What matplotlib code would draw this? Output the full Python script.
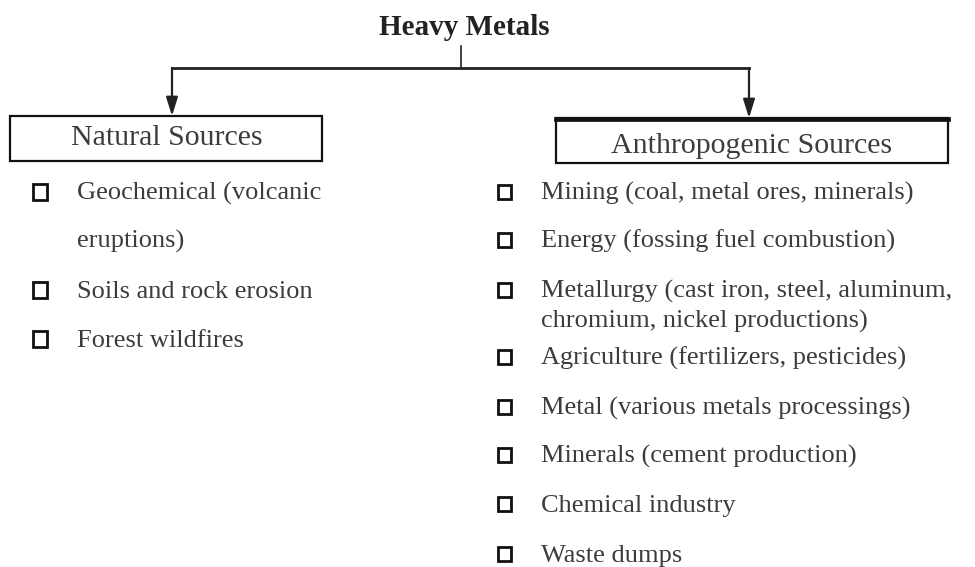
import matplotlib
matplotlib.use("Agg")
import matplotlib.pyplot as plt
from matplotlib.patches import Rectangle, FancyArrowPatch

title = "Heavy Metals"
categories = ["Natural Sources", "Anthropogenic Sources"]
natural_items = [["Geochemical (volcanic", "eruptions)"], ["Soils and rock erosion"], ["Forest wildfires"]]
anthro_items = [
    ["Mining (coal, metal ores, minerals)"],
    ["Energy (fossing fuel combustion)"],
    ["Metallurgy (cast iron, steel, aluminum,", "chromium, nickel productions)"],
    ["Agriculture (fertilizers, pesticides)"],
    ["Metal (various metals processings)"],
    ["Minerals (cement production)"],
    ["Chemical industry"],
    ["Waste dumps"],
]

W, H = 975, 567
fig = plt.figure(figsize=(W / 100, H / 100), dpi=100)
ax = fig.add_axes([0, 0, 1, 1])
ax.set_xlim(0, W)
ax.set_ylim(H, 0)
ax.axis("off")

serif = ["Liberation Serif", "DejaVu Serif"]
txtc = "#3c3c3c"

ax.text(464, 35, title, ha="center", va="baseline", fontsize=21, fontweight="bold",
        family=serif, color="#222222")

# connector lines
ax.plot([461, 461], [46, 68], color="#222", lw=1.2)
ax.plot([172, 749], [68, 68], color="#222", lw=2)
for x, y1 in [(172, 116), (749, 118)]:
    ax.add_patch(FancyArrowPatch((x, 68), (x, y1), arrowstyle="-|>,head_length=0.8,head_width=0.25",
                                 mutation_scale=14, color="#222", lw=1.6, shrinkA=0, shrinkB=0))

# boxes
boxes = [(10, 116, 312, 45, 167, 145), (556, 118, 392, 45, 752, 153)]
for (bx, by, bw, bh, tx, ty), cat in zip(boxes, categories):
    ax.add_patch(Rectangle((bx, by), bw, bh, fill=False, ec="#111", lw=1.6))
    ax.text(tx, ty, cat, ha="center", va="baseline", fontsize=21.5, family=serif, color=txtc)
# thicker top border on right box
ax.plot([556, 948], [118.5, 118.5], color="#111", lw=3.4)

def bullets(items, ys, gap, sx, tx, sw, sh):
    for lines, y in zip(items, ys):
        ax.add_patch(Rectangle((sx, y - 8 - sh / 2), sw, sh, fill=False, ec="#111", lw=2))
        for i, line in enumerate(lines):
            ax.text(tx, y + i * gap, line, ha="left", va="baseline", fontsize=19,
                    family=serif, color=txtc)

bullets(natural_items, [200, 298, 347], 48, 33, 77, 14, 16)
bullets(anthro_items, [200, 248, 298, 365, 415, 463, 512, 562], 30, 498, 541, 13, 14)

fig.savefig("out.png", dpi=100)
